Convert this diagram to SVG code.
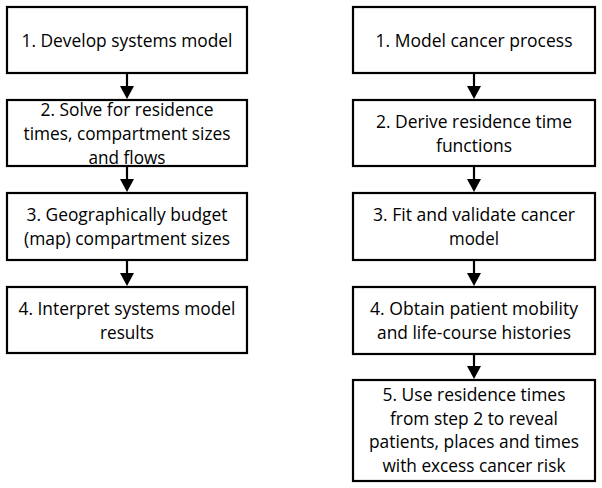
<svg xmlns="http://www.w3.org/2000/svg" width="602" height="488" viewBox="0 0 602 488">
<style>
.box{fill:#fff;stroke:#000;stroke-width:2.2}
text{font-family:"Open Sans","Noto Sans",sans-serif;font-size:18px;fill:#000;text-anchor:middle}
.arr{stroke:#000;stroke-width:2.2;fill:none}
</style>
<defs>
<marker id="ah" markerWidth="14" markerHeight="13" refX="7" refY="13" orient="auto" markerUnits="userSpaceOnUse" viewBox="0 0 14 13">
<path d="M0,0 L14,0 L7,13 Z" fill="#000" transform="rotate(-90 7 6.5)"/>
</marker>
</defs>
<rect width="602" height="488" fill="#fff"/>
<g id="connectors">
<line class="arr" x1="127" y1="73" x2="127" y2="88"/><polygon points="120,86 134,86 127,99"/>
<line class="arr" x1="127" y1="166" x2="127" y2="181"/><polygon points="120,179 134,179 127,192"/>
<line class="arr" x1="127" y1="260" x2="127" y2="275"/><polygon points="120,273 134,273 127,286"/>
<line class="arr" x1="474" y1="73" x2="474" y2="88"/><polygon points="467,86 481,86 474,99"/>
<line class="arr" x1="474" y1="166" x2="474" y2="181"/><polygon points="467,179 481,179 474,192"/>
<line class="arr" x1="474" y1="260" x2="474" y2="275"/><polygon points="467,273 481,273 474,286"/>
<line class="arr" x1="474" y1="354" x2="474" y2="368"/><polygon points="467,366 481,366 474,379"/>
</g>
<g id="L1"><rect class="box" x="7" y="7" width="240" height="66"/>
<text x="127" y="47" textLength="211" lengthAdjust="spacingAndGlyphs">1. Develop systems model</text></g>
<g id="L2"><rect class="box" x="7" y="100" width="240" height="66"/>
<text x="127" y="116" textLength="173" lengthAdjust="spacingAndGlyphs">2. Solve for residence</text>
<text x="127" y="140" textLength="207" lengthAdjust="spacingAndGlyphs">times, compartment sizes</text>
<text x="127" y="164" textLength="77" lengthAdjust="spacingAndGlyphs">and flows</text></g>
<g id="L3"><rect class="box" x="7" y="193" width="240" height="67"/>
<text x="127" y="221" textLength="201" lengthAdjust="spacingAndGlyphs">3. Geographically budget</text>
<text x="127" y="245" textLength="206" lengthAdjust="spacingAndGlyphs">(map) compartment sizes</text></g>
<g id="L4"><rect class="box" x="7" y="287" width="240" height="66"/>
<text x="127" y="315" textLength="217" lengthAdjust="spacingAndGlyphs">4. Interpret systems model</text>
<text x="127" y="339" textLength="54" lengthAdjust="spacingAndGlyphs">results</text></g>
<g id="R1"><rect class="box" x="353" y="7" width="242" height="66"/>
<text x="474" y="47" textLength="197" lengthAdjust="spacingAndGlyphs">1. Model cancer process</text></g>
<g id="R2"><rect class="box" x="353" y="100" width="242" height="66"/>
<text x="474" y="128" textLength="196" lengthAdjust="spacingAndGlyphs">2. Derive residence time</text>
<text x="474" y="152" textLength="76" lengthAdjust="spacingAndGlyphs">functions</text></g>
<g id="R3"><rect class="box" x="353" y="193" width="242" height="67"/>
<text x="474" y="221" textLength="202" lengthAdjust="spacingAndGlyphs">3. Fit and validate cancer</text>
<text x="474" y="245" textLength="50" lengthAdjust="spacingAndGlyphs">model</text></g>
<g id="R4"><rect class="box" x="353" y="287" width="242" height="67"/>
<text x="474" y="315" textLength="208" lengthAdjust="spacingAndGlyphs">4. Obtain patient mobility</text>
<text x="474" y="339" textLength="194" lengthAdjust="spacingAndGlyphs">and life-course histories</text></g>
<g id="R5"><rect class="box" x="353" y="380" width="242" height="101"/>
<text x="474" y="401" textLength="183" lengthAdjust="spacingAndGlyphs">5. Use residence times</text>
<text x="474" y="425" textLength="168" lengthAdjust="spacingAndGlyphs">from step 2 to reveal</text>
<text x="474" y="448" textLength="210" lengthAdjust="spacingAndGlyphs">patients, places and times</text>
<text x="474" y="472" textLength="183" lengthAdjust="spacingAndGlyphs">with excess cancer risk</text></g>
</svg>
